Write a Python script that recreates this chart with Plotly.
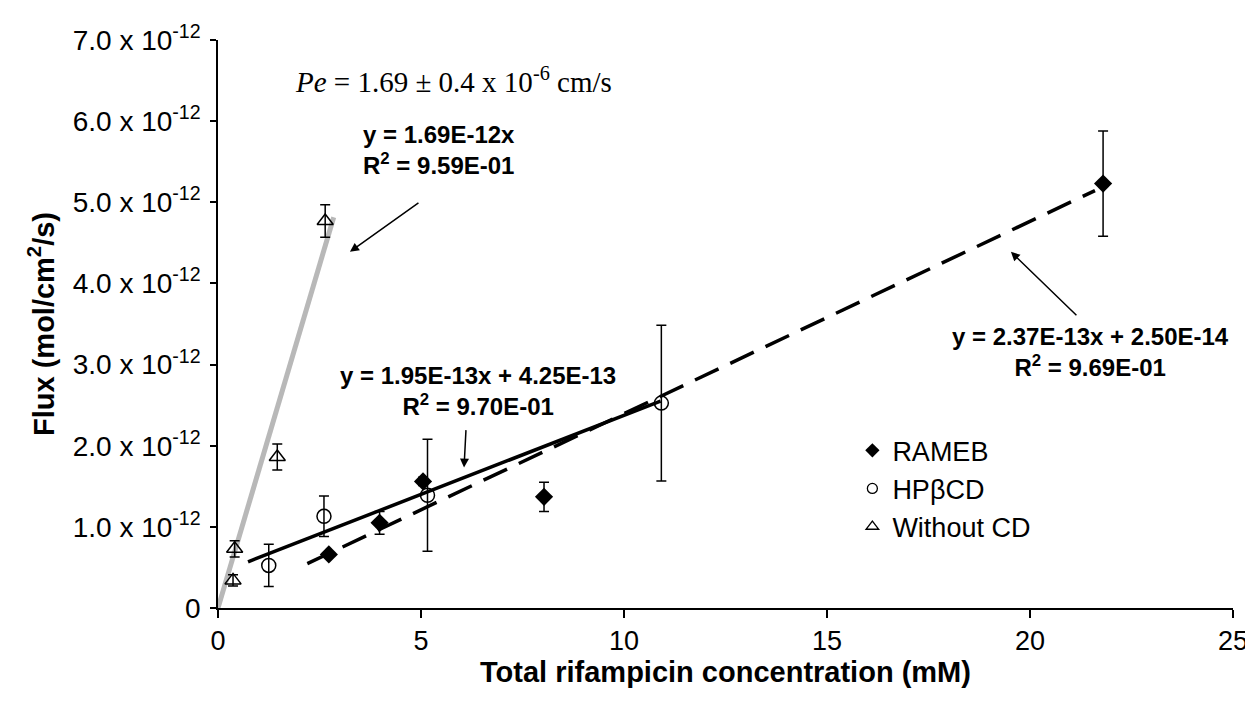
import plotly.graph_objects as go

# ---- data (flux in units of 1e-12 mol/cm2/s, concentration in mM) ----
rameb_x = [2.73, 3.98, 5.05, 8.03, 21.8]
rameb_y = [0.66, 1.05, 1.56, 1.37, 5.23]
rameb_err = [0.03, 0.14, 0.05, 0.18, 0.65]

hp_x = [1.25, 2.61, 5.16, 10.92]
hp_y = [0.525, 1.13, 1.39, 2.525]
hp_err = [0.26, 0.25, 0.69, 0.96]

wo_x = [0.37, 0.41, 1.46, 2.64]
wo_y = [0.34, 0.73, 1.86, 4.77]
wo_err = [0.07, 0.10, 0.16, 0.20]

# trendlines: slope, intercept (1e-12 units), x-range
fit_rameb = (0.237, 0.025)
fit_rameb_x = [2.2, 21.6]
fit_hp = (0.195, 0.425)
fit_hp_x = [0.74, 10.9]
fit_wo = (1.69, 0.0)
fit_wo_x = [0.0, 2.85]

y_tickvals = [0, 1, 2, 3, 4, 5, 6, 7]
y_ticktext = ["0"] + [f"{v:.1f} x 10<sup>-12</sup>" for v in y_tickvals[1:]]
x_tickvals = [0, 5, 10, 15, 20, 25]

FONT = "Liberation Sans, Arial, sans-serif"

def line_pts(fit, xr):
    return xr, [fit[0] * x + fit[1] for x in xr]

fig = go.Figure()

# trendlines
x, y = line_pts(fit_wo, fit_wo_x)
fig.add_trace(go.Scatter(x=x, y=y, mode="lines", line=dict(color="#b8b8b8", width=5),
                         showlegend=False, hoverinfo="skip"))
x, y = line_pts(fit_hp, fit_hp_x)
fig.add_trace(go.Scatter(x=x, y=y, mode="lines", line=dict(color="black", width=3.5),
                         showlegend=False, hoverinfo="skip"))
x, y = line_pts(fit_rameb, fit_rameb_x)
fig.add_trace(go.Scatter(x=x, y=y, mode="lines",
                         line=dict(color="black", width=3.5, dash="26px,13px"),
                         showlegend=False, hoverinfo="skip"))

err_style = dict(type="data", visible=True, color="black", thickness=1.5, width=5)

fig.add_trace(go.Scatter(x=rameb_x, y=rameb_y, mode="markers", name="RAMEB",
                         marker=dict(symbol="diamond", size=14, color="black"),
                         error_y=dict(array=rameb_err, **err_style), showlegend=False))
fig.add_trace(go.Scatter(x=hp_x, y=hp_y, mode="markers", name="HPβCD",
                         marker=dict(symbol="circle-open", size=14, color="black",
                                     line=dict(width=1.5, color="black")),
                         error_y=dict(array=hp_err, **err_style), showlegend=False))
fig.add_trace(go.Scatter(x=wo_x, y=wo_y, mode="markers", name="Without CD",
                         marker=dict(symbol="triangle-up-open", size=14, color="black",
                                     line=dict(width=1.5, color="black")),
                         error_y=dict(array=wo_err, **err_style), showlegend=False))

# legend entries (smaller glyphs like the original)
fig.add_trace(go.Scatter(x=[None], y=[None], mode="markers", name="RAMEB",
                         marker=dict(symbol="diamond", size=11, color="black")))
fig.add_trace(go.Scatter(x=[None], y=[None], mode="markers", name="HPβCD",
                         marker=dict(symbol="circle-open", size=10, color="black",
                                     line=dict(width=1.3, color="black"))))
fig.add_trace(go.Scatter(x=[None], y=[None], mode="markers", name="Without CD",
                         marker=dict(symbol="triangle-up-open", size=11, color="black",
                                     line=dict(width=1.3, color="black"))))

ann_font = dict(family=FONT, size=24, color="black")

annotations = [
    dict(x=5.79, y=6.51, xref="x", yref="y", showarrow=False,
         text="<i>Pe</i> = 1.69 ± 0.4 x 10<sup>-6</sup> cm/s",
         font=dict(family="Liberation Serif, Times New Roman, serif", size=29, color="black")),
    dict(x=3.52, y=5.64, xref="x", yref="y", showarrow=False, xanchor="left",
         text="<b>y = 1.69E-12x</b><br><b>R<sup>2</sup> = 9.59E-01</b>", align="left", font=ann_font),
    dict(x=6.40, y=2.67, xref="x", yref="y", showarrow=False,
         text="<b>y = 1.95E-13x + 4.25E-13</b><br><b>R<sup>2</sup> = 9.70E-01</b>", align="center", font=ann_font),
    dict(x=21.48, y=3.15, xref="x", yref="y", showarrow=False,
         text="<b>y = 2.37E-13x + 2.50E-14</b><br><b>R<sup>2</sup> = 9.69E-01</b>", align="center", font=ann_font),
    # arrows
    dict(x=3.25, y=4.39, xref="x", yref="y", ax=70, ay=-50, text="", showarrow=True,
         arrowhead=2, arrowsize=1.2, arrowwidth=1.5, arrowcolor="black"),
    dict(x=6.06, y=1.73, xref="x", yref="y", ax=2, ay=-39, text="", showarrow=True,
         arrowhead=2, arrowsize=1.2, arrowwidth=1.5, arrowcolor="black"),
    dict(x=19.53, y=4.39, xref="x", yref="y", ax=67, ay=65, text="", showarrow=True,
         arrowhead=2, arrowsize=1.2, arrowwidth=1.5, arrowcolor="black"),
]

fig.update_layout(
    width=1253, height=702,
    margin=dict(l=210, r=28, t=22, b=102),
    paper_bgcolor="white", plot_bgcolor="white",
    font=dict(family=FONT, size=27, color="black"),
    annotations=annotations,
    legend=dict(x=0.625, y=0.32, xanchor="left", yanchor="top",
                font=dict(family=FONT, size=27, color="black"),
                bgcolor="rgba(0,0,0,0)", itemwidth=30, tracegroupgap=0),
    xaxis=dict(range=[0, 25], tickvals=x_tickvals, showline=True, linecolor="black",
               linewidth=1.5, ticks="outside", ticklen=8, tickcolor="black", tickwidth=1.5,
               showgrid=False, zeroline=False, tickfont=dict(size=27),
               title=dict(text="<b>Total rifampicin concentration (mM)</b>",
                          font=dict(size=29), standoff=6)),
    yaxis=dict(range=[0, 7], tickvals=y_tickvals, ticktext=y_ticktext, showline=True,
               linecolor="black", linewidth=1.5, ticks="outside", ticklen=6,
               tickcolor="black", tickwidth=1.5, showgrid=False, zeroline=False,
               tickfont=dict(size=28), ticklabelstandoff=4,
               title=dict(text="<b>Flux (mol/cm<sup>2</sup>/s)</b>", font=dict(size=29),
                          standoff=10)),
)

fig.write_html("out.html")
